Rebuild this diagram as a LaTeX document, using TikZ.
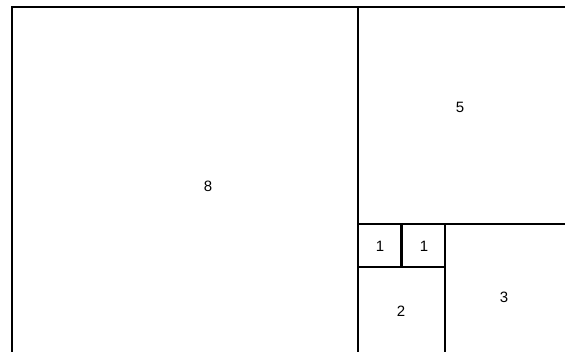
\documentclass[tikz,border=0pt]{standalone}
\usepackage{fontspec}
\setmainfont{Liberation Sans}
\tikzstyle{tile} = [draw=black, line width=2.2pt]
\tikzstyle{num} = [font=\fontsize{15}{18}\selectfont, inner sep=0pt]

\begin{document}
\begin{tikzpicture}[x=1pt, y=-1pt]
\useasboundingbox (0,0) rectangle (565,351);
\clip (0,0) rectangle (565,351);

% Squares
\draw[tile] (12,7) rectangle (358,353);
\draw[tile] (358,7) rectangle (574,224);
\draw[tile] (358,224) rectangle (401.5,267);
\draw[tile] (401.5,224) rectangle (445,267);
\draw[tile] (358,267) rectangle (445,353);
\draw[tile] (445,224) rectangle (574,353);

% Labels
\node[num] (eight) at (208,186) {8};
\node[num] (five) at (460,107) {5};
\node[num] (oneA) at (380,246) {1};
\node[num] (oneB) at (424,246) {1};
\node[num] (two) at (401,311) {2};
\node[num] (three) at (504,297) {3};

\end{tikzpicture}
\end{document}
